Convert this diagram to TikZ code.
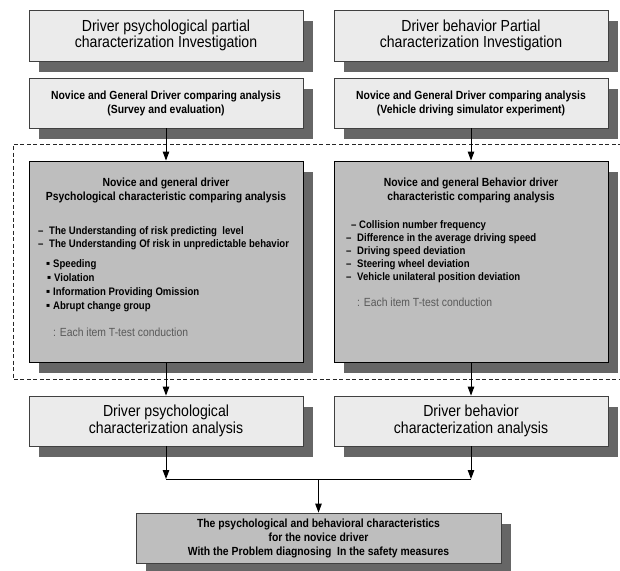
\documentclass[tikz,border=0pt]{standalone}
\usepackage{fontspec}
\setmainfont{Liberation Sans}[FakeStretch=0.88]
\newfontfamily\dejavu{DejaVu Sans}
\usetikzlibrary{arrows.meta,shadows}
\definecolor{boxlight}{HTML}{EBEBEB}
\definecolor{boxmid}{HTML}{BEBEBE}
\definecolor{shadowc}{HTML}{666666}
\definecolor{edgec}{HTML}{404040}
\definecolor{notec}{HTML}{5A5A5A}
\newcommand\sqbul{\makebox[7pt][l]{\raisebox{1.2pt}{\dejavu\fontsize{6}{6}\selectfont ▪}}}
\begin{document}
\begin{tikzpicture}[x=1pt,y=-1pt,
  shad/.style={drop shadow={shadow xshift=9.5pt,shadow yshift=-10.5pt,fill=shadowc,opacity=1}},
  lightbox/.style={draw=edgec,line width=0.8pt,fill=boxlight,shad,minimum width=274pt,minimum height=51pt,inner sep=0pt,align=center},
  title/.style={font=\fontsize{16}{16.5}\selectfont},
  sub/.style={font=\fontsize{11.8}{14}\selectfont\bfseries},
  midbox/.style={draw=black,line width=0.9pt,fill=boxmid,shad,minimum width=274pt,minimum height=201pt,inner sep=0pt},
  finbox/.style={draw=edgec,line width=0.8pt,fill=boxmid,shad,minimum width=365pt,minimum height=50pt,inner sep=0pt,align=center},
  item/.style={anchor=base west,inner sep=0pt,font=\fontsize{10.9}{13}\selectfont\bfseries},
  note/.style={anchor=base west,inner sep=0pt,text=notec,font=\fontsize{11.8}{13}\selectfont},
  arr/.style={line width=1pt,-{Triangle[length=9pt,width=6.5pt]}},
  joinline/.style={line width=1pt},
  frame/.style={line width=0.9pt,draw=black!85,dash pattern=on 4pt off 2.5pt}
]
\useasboundingbox (0,0) rectangle (620,570);

% top boxes
\node[lightbox,title] (t1) at (166,35.5) {Driver psychological partial\\characterization Investigation};
\node[lightbox,title] (t2) at (471,35.5) {Driver behavior Partial\\characterization Investigation};
\node[lightbox,sub,minimum height=50pt] (s1) at (166,103) {Novice and General Driver comparing analysis\\(Survey and evaluation)};
\node[lightbox,sub,minimum height=50pt] (s2) at (471,103) {Novice and General Driver comparing analysis\\(Vehicle driving simulator experiment)};

% dashed frame
\coordinate (fa) at (622,144);
\coordinate (fb) at (13,144);
\coordinate (fc) at (13,379);
\coordinate (fd) at (622,379);
\draw[frame] (fa) -- (fb) -- (fc) -- (fd);

% middle boxes
\node[midbox] (m1) at (166,261.5) {};
\node[midbox] (m2) at (471,261.5) {};

\node[sub,align=center,inner sep=0pt] (h1) at (166,190) {Novice and general driver\\Psychological characteristic comparing analysis};
\node[sub,align=center,inner sep=0pt] (h2) at (471,190) {Novice and general Behavior driver\\characteristic comparing analysis};

\node[item] (l1) at (38,234) {\makebox[11pt][l]{–}The Understanding of risk predicting\ \ level};
\node[item] (l2) at (38,247) {\makebox[11pt][l]{–}The Understanding Of risk in unpredictable behavior};
\node[item] (b1) at (46,267) {\sqbul Speeding};
\node[item] (b2) at (47,281) {\sqbul Violation};
\node[item] (b3) at (46,295) {\sqbul Information Providing Omission};
\node[item] (b4) at (46,309) {\sqbul Abrupt change group};
\node[note] (n1) at (53,336) {: Each item T-test conduction};

\node[item] (r1a) at (351,228) {\makebox[8pt][l]{–}Collision number frequency};
\node[item] (r1b) at (346,241) {\makebox[11pt][l]{–}Difference in the average driving speed};
\node[item] (r1c) at (346,254) {\makebox[11pt][l]{–}Driving speed deviation};
\node[item] (r1d) at (346,267) {\makebox[11pt][l]{–}Steering wheel deviation};
\node[item] (r1e) at (346,280) {\makebox[11pt][l]{–}Vehicle unilateral position deviation};
\node[note] (n2) at (357,306) {: Each item T-test conduction};

% lower boxes
\node[lightbox,title,minimum height=50pt] (a1) at (166,421) {Driver psychological\\characterization analysis};
\node[lightbox,title,minimum height=50pt] (a2) at (471,421) {Driver behavior\\characterization analysis};

\node[finbox,sub] (fin) at (318.5,538) {The psychological and behavioral characteristics\\for the novice driver\\With the Problem diagnosing\ \ In the safety measures};

% connectors
\draw[arr] (s1.south) -- (m1.north);
\draw[arr] (s2.south) -- (m2.north);
\draw[arr] (m1.south) -- (a1.north);
\draw[arr] (m2.south) -- (a2.north);
\coordinate (jl) at (166,479);
\coordinate (jr) at (471,479);
\coordinate (jc) at (318.5,479);
\draw[arr] (a1.south) -- (jl);
\draw[arr] (a2.south) -- (jr);
\draw[joinline] (jl) -- (jr);
\draw[arr] (jc) -- (fin.north);
\end{tikzpicture}
\end{document}
